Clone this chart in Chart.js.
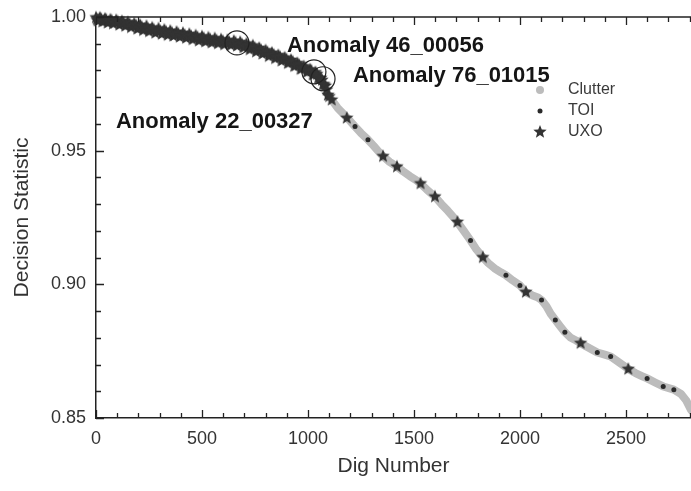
<!DOCTYPE html>
<html>
<head>
	<meta charset="utf-8">
	<title>Decision Statistic vs Dig Number</title>
	<script src="https://cdn.jsdelivr.net/npm/chart.js@4.4.1/dist/chart.umd.min.js"></script>
	<style>
		body { margin: 0; background: #fff; }
		#wrap { width: 691px; height: 491px; }
	</style>
</head>
<body>
	<div id="wrap">
		<canvas id="chart" width="691" height="491"></canvas>
	</div>

	<script type="text/javascript">
		// UXO stars: dense band up to ~1100, then the sparse ones
		var uxoDig = [0, 8, 18, 30, 42, 55, 68, 80, 95, 110, 122, 138, 150, 165, 180, 195, 208, 222, 238, 250,
			265, 280, 295, 310, 322, 338, 350, 365, 380, 395, 410, 425, 440, 455, 470, 485, 500, 515, 530, 545,
			560, 575, 590, 605, 620, 635, 650, 665, 680, 695, 710, 725, 740, 755, 770, 785, 800, 815, 830, 845,
			860, 875, 890, 905, 920, 935, 950, 965, 980, 995, 1010, 1022, 1035, 1048, 1060, 1071, 1082, 1094,
			1112, 1183, 1354, 1420, 1531, 1599, 1705, 1825, 2028, 2286, 2511];
		var uxoVal = [0.9998, 0.9986, 0.9997, 0.9982, 0.9993, 0.9978, 0.9990, 0.9975, 0.9988, 0.9970,
			0.9984, 0.9966, 0.9980, 0.9961, 0.9975, 0.9955, 0.9970, 0.9950, 0.9966, 0.9946,
			0.9960, 0.9940, 0.9957, 0.9936, 0.9952, 0.9932, 0.9948, 0.9929, 0.9944, 0.9925,
			0.9940, 0.9921, 0.9936, 0.9916, 0.9931, 0.9911, 0.9927, 0.9908, 0.9923, 0.9904,
			0.9920, 0.9901, 0.9916, 0.9897, 0.9913, 0.9895, 0.9910, 0.9892, 0.9906, 0.9886,
			0.9900, 0.9878, 0.9893, 0.9870, 0.9884, 0.9862, 0.9875, 0.9853, 0.9866, 0.9845,
			0.9857, 0.9836, 0.9848, 0.9827, 0.9839, 0.9816, 0.9827, 0.9805, 0.9815, 0.9794,
			0.9803, 0.9784, 0.9793, 0.9771, 0.9772, 0.9748, 0.9742, 0.9708,
			0.9690, 0.9622, 0.9479, 0.9440, 0.9377, 0.9328, 0.9233, 0.9101, 0.8971, 0.8780, 0.8683];
		// more stars filling the band between those above
		var uxoBandDig = [4, 13, 24, 36, 48, 61, 74, 88, 102, 116, 130, 144, 158, 172, 188, 202, 215, 230, 244, 258,
			272, 288, 302, 316, 330, 344, 358, 372, 388, 402, 418, 432, 448, 462, 478, 492, 508, 522, 538, 552,
			568, 582, 598, 612, 628, 642, 658, 672, 688, 702, 718, 732, 748, 762, 778, 792, 808, 822, 838, 852,
			868, 882, 898, 912, 928, 942, 958, 972, 988, 1002, 1016, 1028, 1042, 1054, 1066, 1077, 1088, 1100];
		var uxoBandVal = [0.9991, 0.9990, 0.9993, 0.9986, 0.9990, 0.9983, 0.9986, 0.9979, 0.9983, 0.9976,
			0.9979, 0.9972, 0.9974, 0.9967, 0.9969, 0.9960, 0.9963, 0.9956, 0.9957, 0.9950,
			0.9953, 0.9946, 0.9948, 0.9941, 0.9945, 0.9937, 0.9941, 0.9933, 0.9938, 0.9929,
			0.9933, 0.9926, 0.9929, 0.9920, 0.9925, 0.9916, 0.9921, 0.9911, 0.9917, 0.9908,
			0.9913, 0.9905, 0.9910, 0.9902, 0.9907, 0.9898, 0.9905, 0.9896, 0.9898, 0.9889,
			0.9892, 0.9883, 0.9885, 0.9875, 0.9877, 0.9866, 0.9869, 0.9858, 0.9859, 0.9849,
			0.9851, 0.9840, 0.9842, 0.9830, 0.9833, 0.9819, 0.9821, 0.9808, 0.9810, 0.9797,
			0.9799, 0.9786, 0.9786, 0.9768, 0.9764, 0.9747, 0.9728, 0.9703];

		var toiDig = [1222, 1283, 1767, 1934, 2000, 2102, 2167, 2212, 2365, 2428, 2600, 2676, 2726];
		var toiVal = [0.9590, 0.9541, 0.9164, 0.9034, 0.8996, 0.8941, 0.8867, 0.8821, 0.8745, 0.8730, 0.8648, 0.8618, 0.8606];

		var clutterDig = [1090, 1110, 1140, 1170, 1200, 1222, 1250, 1283, 1310, 1335, 1354, 1385, 1420, 1450, 1480,
			1510, 1531, 1560, 1599, 1630, 1660, 1690, 1705, 1735, 1767, 1795, 1825, 1850, 1880, 1910,
			1934, 1965, 2000, 2028, 2060, 2085, 2102, 2125, 2145, 2167, 2190, 2212, 2240, 2265, 2286,
			2320, 2365, 2400, 2428, 2460, 2490, 2511, 2545, 2575, 2600, 2640, 2676, 2726, 2760, 2785, 2797, 2807];
		var clutterVal = [0.9715, 0.9692, 0.9660, 0.9635, 0.9610, 0.9590, 0.9566, 0.9541, 0.9518, 0.9495, 0.9479, 0.9458, 0.9440, 0.9422, 0.9405,
			0.9390, 0.9377, 0.9355, 0.9328, 0.9300, 0.9275, 0.9248, 0.9233, 0.9200, 0.9164, 0.9130, 0.9101, 0.9080, 0.9060, 0.9045,
			0.9034, 0.9015, 0.8996, 0.8971, 0.8958, 0.8951, 0.8941, 0.8918, 0.8890, 0.8867, 0.8843, 0.8821, 0.8800, 0.8790, 0.8780,
			0.8765, 0.8745, 0.8737, 0.8730, 0.8712, 0.8695, 0.8683, 0.8668, 0.8657, 0.8648, 0.8632, 0.8618, 0.8606, 0.8590, 0.8565, 0.8546, 0.8530];

		// circled anomalies
		var circDig = [665, 1028, 1071];
		var circVal = [0.9903, 0.9795, 0.9769];

		var noteText = ['Anomaly 22_00327', 'Anomaly 46_00056', 'Anomaly 76_01015'];
		var noteDig = [94, 901, 1212];
		var noteVal = [0.9586, 0.9869, 0.9757];

		var legendNames = ['Clutter', 'TOI', 'UXO'];
		var xTickLabels = [0, 500, 1000, 1500, 2000, 2500];
		var yTickLabels = [0.85, 0.90, 0.95, 1.00];

		function pts(xs, ys) {
			var out = [];
			for (var i = 0; i < xs.length; i++) out.push({x: xs[i], y: ys[i]});
			return out;
		}

		function makeStar(r, color) {
			var c = document.createElement('canvas');
			var s = Math.ceil(r * 2) + 2;
			c.width = s; c.height = s;
			var g = c.getContext('2d');
			g.fillStyle = color;
			g.beginPath();
			for (var i = 0; i < 10; i++) {
				var rr = i % 2 === 0 ? r : r * 0.43;
				var a = -Math.PI / 2 + i * Math.PI / 5;
				g.lineTo(s / 2 + rr * Math.cos(a), s / 2 + rr * Math.sin(a));
			}
			g.closePath();
			g.fill();
			return c;
		}
		var star = makeStar(7, '#333333');

		Chart.defaults.font.family = '"Liberation Sans", Arial, sans-serif';
		Chart.defaults.color = '#333';

		// inward ticks, top frame line, legend and the anomaly notes
		var decor = {
			id: 'decor',
			afterDatasetsDraw: function (chart) {
				var ctx = chart.ctx, a = chart.chartArea;
				var xs = chart.scales.x, ys = chart.scales.y;
				ctx.save();
				ctx.strokeStyle = '#222';
				ctx.lineWidth = 1.3;
				ctx.beginPath();
				ctx.moveTo(a.left, a.top);
				ctx.lineTo(a.right, a.top);
				for (var d = 0; d <= 2800; d += 100) {
					var px = Math.round(xs.getPixelForValue(d)) + 0.5;
					var len = d % 500 === 0 ? 8 : 5;
					ctx.moveTo(px, a.bottom); ctx.lineTo(px, a.bottom - len);
					ctx.moveTo(px, a.top); ctx.lineTo(px, a.top + len);
				}
				for (var k = 85; k <= 100; k++) {
					var py = Math.round(ys.getPixelForValue(k / 100)) + 0.5;
					var l2 = k % 5 === 0 ? 8 : 5;
					ctx.moveTo(a.left, py); ctx.lineTo(a.left + l2, py);
				}
				ctx.stroke();

				// legend
				var lx = 540, ly = 90, gap = 21;
				ctx.fillStyle = '#bcbcbc';
				ctx.beginPath(); ctx.arc(lx, ly, 4, 0, Math.PI * 2); ctx.fill();
				ctx.fillStyle = '#2a2a2a';
				ctx.beginPath(); ctx.arc(lx, ly + gap, 2.5, 0, Math.PI * 2); ctx.fill();
				ctx.drawImage(star, lx - star.width / 2, ly + 2 * gap - star.height / 2);
				ctx.font = '16px "Liberation Sans", Arial, sans-serif';
				ctx.fillStyle = '#3a3a3a';
				ctx.textBaseline = 'middle';
				for (var i = 0; i < legendNames.length; i++) {
					ctx.fillText(legendNames[i], 568, ly + i * gap);
				}

				// notes
				ctx.font = 'bold 22px "Liberation Sans", Arial, sans-serif';
				ctx.fillStyle = '#151515';
				ctx.textBaseline = 'alphabetic';
				for (var j = 0; j < noteText.length; j++) {
					ctx.fillText(noteText[j], xs.getPixelForValue(noteDig[j]), ys.getPixelForValue(noteVal[j]));
				}
				ctx.restore();
			}
		};

		var config = {
			type: 'scatter',
			data: {
				datasets: [
					{
						label: 'circles',
						data: pts(circDig, circVal),
						pointStyle: 'circle',
						pointRadius: 12,
						backgroundColor: 'rgba(0,0,0,0)',
						borderColor: '#222',
						borderWidth: 1.2,
						order: 0
					},
					{
						label: 'UXO',
						data: pts(uxoDig, uxoVal).concat(pts(uxoBandDig, uxoBandVal)),
						pointStyle: star,
						order: 1
					},
					{
						label: 'TOI',
						data: pts(toiDig, toiVal),
						pointRadius: 2.5,
						backgroundColor: '#2a2a2a',
						borderWidth: 0,
						order: 2
					},
					{
						label: 'Clutter',
						data: pts(clutterDig, clutterVal),
						showLine: true,
						borderColor: '#bcbcbc',
						borderWidth: 8,
						borderCapStyle: 'round',
						borderJoinStyle: 'round',
						pointRadius: 0,
						order: 3
					}
				]
			},
			options: {
				responsive: false,
				animation: false,
				clip: false,
				// no room kept for the big circles: the plot runs to the right edge
				layout: { autoPadding: false, padding: { top: 17, right: 0, bottom: 0, left: 0 } },
				plugins: {
					legend: { display: false },
					tooltip: { enabled: false }
				},
				scales: {
					x: {
						type: 'linear',
						min: 0,
						max: 2807,
						afterFit: function (s) { s.height = 73; s.paddingRight = 0; s.paddingLeft = 0; },
						afterBuildTicks: function (s) {
							s.ticks = xTickLabels.map(function (v) { return {value: v}; });
						},
						// invisible tick marks only push the labels away from the axis
						grid: { drawOnChartArea: false, drawTicks: true, tickLength: 10, color: 'rgba(0,0,0,0)' },
						border: { color: '#222', width: 1.5 },
						ticks: {
							padding: 0, color: '#333', font: { size: 18 },
							callback: function (v) { return String(v); }
						},
						title: { display: true, text: 'Dig Number', color: '#333', font: { size: 21 }, padding: { top: 4, bottom: 12 } }
					},
					y: {
						type: 'linear',
						min: 0.85,
						max: 1.0,
						afterFit: function (s) { s.width = 96; },
						afterBuildTicks: function (s) {
							s.ticks = yTickLabels.map(function (v) { return {value: v}; });
						},
						grid: { drawOnChartArea: false, drawTicks: true, tickLength: 10, color: 'rgba(0,0,0,0)' },
						border: { color: '#222', width: 1.5 },
						ticks: {
							padding: 0, color: '#333', font: { size: 18 },
							callback: function (v) { return v.toFixed(2); }
						},
						title: { display: true, text: 'Decision Statistic', color: '#333', font: { size: 21 }, padding: { top: 10 } }
					}
				}
			},
			plugins: [decor]
		};

		var ctx = document.getElementById('chart').getContext('2d');
		var chart = new Chart(ctx, config);
	</script>
</body>
</html>
